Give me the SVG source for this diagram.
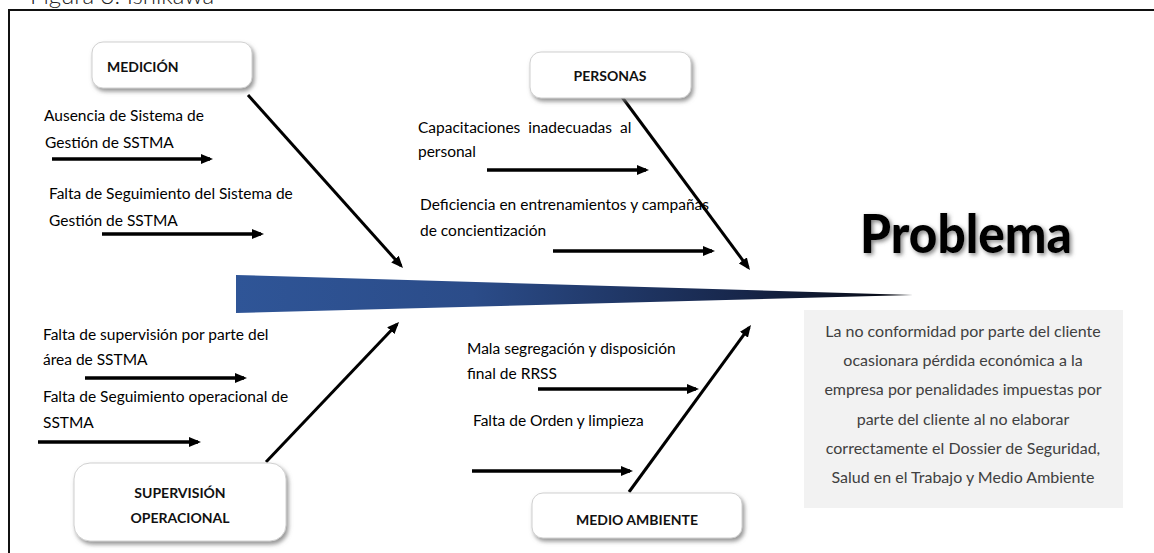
<svg xmlns="http://www.w3.org/2000/svg" width="1154" height="553" viewBox="0 0 1154 553">
<style>
.t{font-family:Lato,"Liberation Sans",sans-serif;font-size:15.5px;fill:#000}
.b{font-family:Lato,"Liberation Sans",sans-serif;font-size:14px;font-weight:bold;fill:#111}
.p{font-family:Lato,"Liberation Sans",sans-serif;font-size:16px;fill:#404040;text-anchor:middle}
.box{fill:#fff;stroke:#d0d0d0;stroke-width:1}
.h{stroke:#000;stroke-width:3.5;fill:none}
.d{stroke:#000;stroke-width:3;fill:none}
</style>
<defs>
<marker id="ah" markerUnits="userSpaceOnUse" viewBox="0 0 12 10" refX="9" refY="5" markerWidth="12" markerHeight="10" orient="auto"><path d="M0,0 L12,5 L0,10 z" fill="#000"/></marker>
<filter id="sh" x="-20%" y="-30%" width="150%" height="170%"><feDropShadow dx="2" dy="3" stdDeviation="2" flood-color="#7a7a7a" flood-opacity="0.8"/></filter>
<filter id="ts" x="-10%" y="-20%" width="130%" height="160%"><feDropShadow dx="2" dy="2" stdDeviation="2" flood-color="#666" flood-opacity="0.8"/></filter>
<linearGradient id="g" x1="236" y1="0" x2="913" y2="0" gradientUnits="userSpaceOnUse">
<stop offset="0" stop-color="#2f5597"/><stop offset="0.35" stop-color="#2b4c89"/><stop offset="0.75" stop-color="#17264a"/><stop offset="1" stop-color="#05070d"/>
</linearGradient>
</defs>
<rect width="1154" height="553" fill="#fff"/>
<text x="30" y="4" style="font-family:Lato,'Liberation Sans',sans-serif;font-size:24px;font-weight:300;fill:#222">Figura 3. Ishikawa</text>
<rect x="9" y="10" width="1150" height="560" fill="none" stroke="#111" stroke-width="2"/>
<polygon id="spine" points="236,275 913,295 236,313" fill="url(#g)"/>
<g id="connectors">
<line class="d" x1="248" y1="95" x2="401" y2="265.8" marker-end="url(#ah)"/>
<line class="d" x1="622" y1="97" x2="748.2" y2="267.6" marker-end="url(#ah)"/>
<line class="d" x1="266" y1="462" x2="397" y2="324.2" marker-end="url(#ah)"/>
<line class="d" x1="629" y1="492" x2="749.2" y2="327.4" marker-end="url(#ah)"/>
<line class="h" x1="52" y1="159" x2="210" y2="159" marker-end="url(#ah)"/>
<line class="h" x1="102" y1="234" x2="261" y2="234" marker-end="url(#ah)"/>
<line class="h" x1="487" y1="170" x2="646" y2="170" marker-end="url(#ah)"/>
<line class="h" x1="553" y1="251" x2="712" y2="251" marker-end="url(#ah)"/>
<line class="h" x1="85" y1="378" x2="244" y2="378" marker-end="url(#ah)"/>
<line class="h" x1="38" y1="442" x2="198" y2="442" marker-end="url(#ah)"/>
<line class="h" x1="538" y1="389" x2="696" y2="389" marker-end="url(#ah)"/>
<line class="h" x1="472" y1="471" x2="630" y2="471" marker-end="url(#ah)"/>
</g>
<g id="medicion">
<rect class="box" x="92" y="42" width="160" height="46" rx="11" filter="url(#sh)"/>
<text class="b" x="107" y="72">MEDICIÓN</text>
</g>
<g id="personas">
<rect class="box" x="530" y="52" width="161" height="46" rx="11" filter="url(#sh)"/>
<text class="b" x="610" y="81" text-anchor="middle">PERSONAS</text>
</g>
<g id="supervision">
<rect class="box" x="74" y="463" width="212" height="78" rx="16" filter="url(#sh)"/>
<text class="b" x="180" y="498" text-anchor="middle">SUPERVISIÓN</text>
<text class="b" x="180" y="523" text-anchor="middle">OPERACIONAL</text>
</g>
<g id="medio-ambiente">
<rect class="box" x="532" y="493" width="210" height="45" rx="11" filter="url(#sh)"/>
<text class="b" x="637" y="525" text-anchor="middle">MEDIO AMBIENTE</text>
</g>
<g id="causes-medicion">
<text class="t" x="44" y="121">Ausencia de Sistema de</text>
<text class="t" x="45" y="148">Gestión de SSTMA</text>
<text class="t" x="49" y="199">Falta de Seguimiento del Sistema de</text>
<text class="t" x="49" y="226">Gestión de SSTMA</text>
</g>
<g id="causes-personas">
<text class="t" x="418" y="133" xml:space="preserve">Capacitaciones  inadecuadas  al</text>
<text class="t" x="418" y="157">personal</text>
<text class="t" x="420" y="210">Deficiencia en entrenamientos y campañas</text>
<text class="t" x="420" y="236">de concientización</text>
</g>
<g id="causes-supervision">
<text class="t" x="43" y="340">Falta de supervisión por parte del</text>
<text class="t" x="43" y="365">área de SSTMA</text>
<text class="t" x="43" y="402">Falta de Seguimiento operacional de</text>
<text class="t" x="43" y="428">SSTMA</text>
</g>
<g id="causes-medio">
<text class="t" x="467" y="354">Mala segregación y disposición</text>
<text class="t" x="467" y="379">final de RRSS</text>
<text class="t" x="473" y="426">Falta de Orden y limpieza</text>
</g>
<g id="problema">
<text x="966" y="253" text-anchor="middle" textLength="212" lengthAdjust="spacingAndGlyphs" filter="url(#ts)" style="font-family:Lato,'Liberation Sans',sans-serif;font-size:54px;font-weight:900;fill:#000">Problema</text>
</g>
<g id="descripcion">
<rect x="804" y="310" width="319" height="198" fill="#f2f2f2"/>
<text class="p" x="963" y="337">La no conformidad por parte del cliente</text>
<text class="p" x="963" y="366">ocasionara pérdida económica a la</text>
<text class="p" x="963" y="395">empresa por penalidades impuestas por</text>
<text class="p" x="963" y="425">parte del cliente al no elaborar</text>
<text class="p" x="963" y="454">correctamente el Dossier de Seguridad,</text>
<text class="p" x="963" y="483">Salud en el Trabajo y Medio Ambiente</text>
</g>
</svg>
